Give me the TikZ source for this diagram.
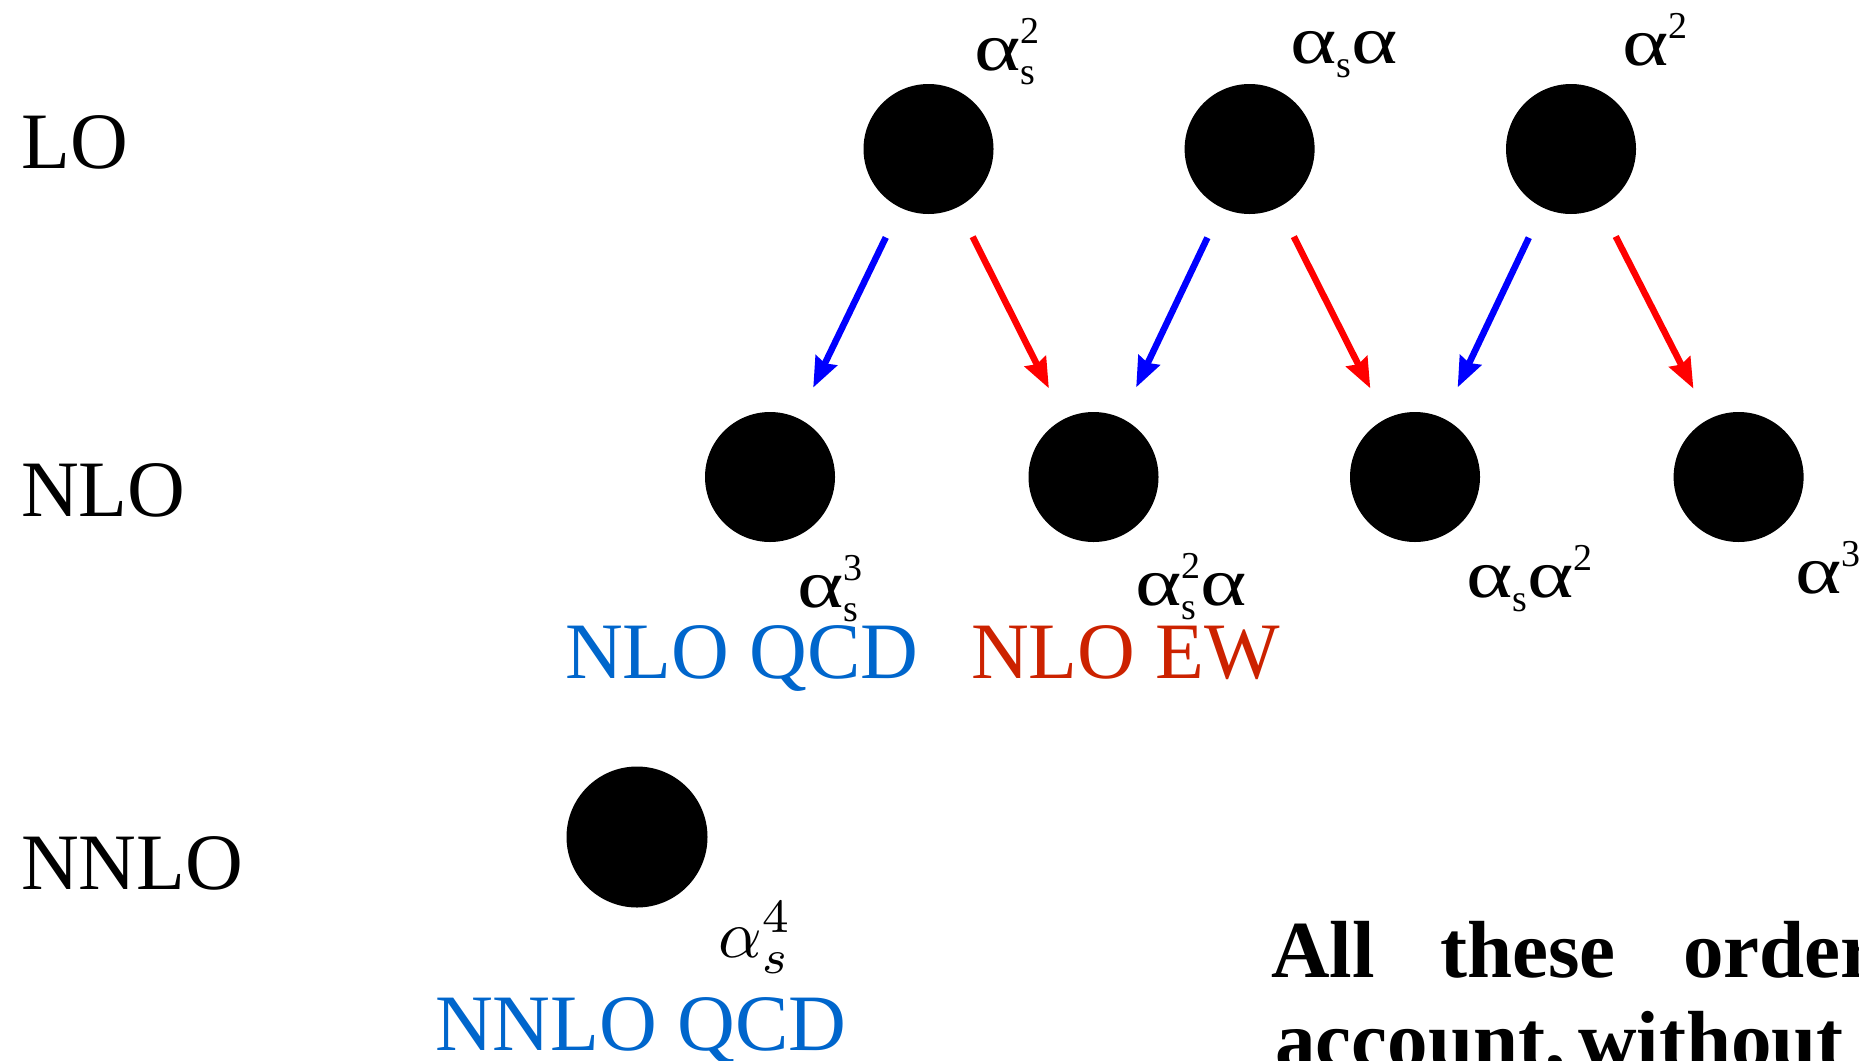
\documentclass[tikz,border=0pt]{standalone}
\usepackage{fontspec}
\setmainfont{Liberation Serif}
\usetikzlibrary{arrows.meta}
\definecolor{qcdblue}{RGB}{0,102,204}
\definecolor{ewred}{RGB}{204,34,0}
\newcommand{\scr}{\fontsize{38}{38}\selectfont}
\newcommand{\Dn}[1]{\raisebox{-14pt}{\scr #1}}
\newcommand{\Up}[1]{\raisebox{27pt}{\scr #1}}
\newcommand{\Al}{\scalebox{1.3}[1]{α}}
\tikzset{
  blob/.style={circle, fill=black, draw=none, minimum size=130pt, inner sep=0pt},
  bigblob/.style={circle, fill=black, draw=none, minimum size=141pt, inner sep=0pt},
  lbl/.style={anchor=base west, inner sep=0pt, font=\fontsize{80}{80}\selectfont},
  mlbl/.style={anchor=base west, inner sep=0pt, font=\fontsize{68}{68}\selectfont},
  bold/.style={anchor=base west, inner sep=0pt, font=\fontsize{81}{81}\selectfont\bfseries},
  arr/.style={line width=6.5pt, -{Stealth[length=30pt, width=23pt, inset=3pt]}, shorten <=33pt, shorten >=34pt},
  qcdarr/.style={arr, draw={rgb,255:red,0;green,0;blue,255}},
  ewarr/.style={arr, draw={rgb,255:red,255;green,0;blue,0}},
}
\begin{document}
\begin{tikzpicture}[x=1pt, y=-1pt]
\useasboundingbox (0,0) rectangle (1859,1060);
\clip (0,0) rectangle (1859,1060);
\fill[white] (0,0) rectangle (1859,1060);

% row labels
\node[lbl] (tLO) at (21,168) {LO};
\node[lbl] (tNLO) at (21,516) {NLO};
\node[lbl] (tNNLO) at (21,889) {NNLO};

% blobs
\node[blob] (lo1) at (928.5,149) {};
\node[blob] (lo2) at (1249.6,149) {};
\node[blob] (lo3) at (1571,149) {};
\node[blob] (nlo1) at (770,477) {};
\node[blob] (nlo2) at (1093.5,477) {};
\node[blob] (nlo3) at (1415,477) {};
\node[blob] (nlo4) at (1738.6,477) {};
\node[bigblob] (nnlo1) at (637,837) {};

% arrows
\draw[qcdarr] (lo1) -- (nlo1);
\draw[ewarr] (lo1) -- (nlo2);
\draw[qcdarr] (lo2) -- (nlo2);
\draw[ewarr] (lo2) -- (nlo3);
\draw[qcdarr] (lo3) -- (nlo3);
\draw[ewarr] (lo3) -- (nlo4);

% coupling labels
\node[mlbl] (c1) at (974,70) {\Al\rlap{\Dn{s}}\Up{2}};
\node[mlbl] (c2) at (1290,63) {\Al\Dn{s}\Al};
\node[mlbl] (c3) at (1622,65) {\Al\Up{2}};
\node[mlbl] (c4) at (797,607) {\Al\rlap{\Dn{s}}\Up{3}};
\node[mlbl] (c5) at (1135,605) {\Al\rlap{\Dn{s}}\Up{2}\Al};
\node[mlbl] (c6) at (1466,597) {\Al\Dn{s}\Al\Up{2}};
\node[mlbl] (c7) at (1795,593) {\Al\Up{3}};
\node[anchor=base west, inner sep=0pt] (c8) at (718,957) {\scalebox{6.8}{$\alpha_s^4$}};

% order names
\node[lbl, text=qcdblue] (q1) at (565,678) {NLO QCD};
\node[lbl, text=ewred] (e1) at (971,678) {NLO EW};
\node[lbl, text=qcdblue] (q2) at (435,1050) {NNLO QCD};

% bold text
\node[bold] (w1) at (1271,977) {All};
\node[bold] (w2) at (1440,977) {these};
\node[bold] (w3) at (1683,977) {orders};
\node[bold] (w4) at (1275,1067) {account,};
\node[bold] (w5) at (1578,1067) {without};
\end{tikzpicture}
\end{document}
